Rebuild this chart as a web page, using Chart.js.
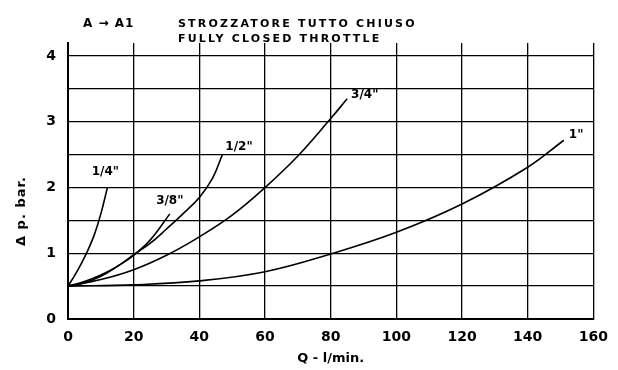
<!DOCTYPE html>
<html>
<head>
<meta charset="utf-8">
<script src="https://cdn.jsdelivr.net/npm/chart.js@4.4.0/dist/chart.umd.min.js"></script>
<style>
  body { margin: 0; background: #fff; }
  #wrap { width: 618px; height: 370px; }
</style>
</head>
<body>
<div id="wrap"><canvas id="myChart"></canvas></div>
<script>
// curve names
const sizes = ['1/4"', '3/8"', '1/2"', '3/4"', '1"'];

// flow Q (l/min) and pressure drop (bar)
const q14 = [0, 2, 4, 6, 8, 10, 12];
const dp14 = [0.5, 0.66, 0.84, 1.04, 1.28, 1.6, 2.0];

const q38 = [0, 5, 10, 15, 20, 25, 31];
const dp38 = [0.5, 0.55, 0.65, 0.8, 0.97, 1.2, 1.6];

const q12 = [0, 5, 10, 15, 20, 25, 30, 35, 40, 44, 47];
const dp12 = [0.5, 0.57, 0.67, 0.8, 0.98, 1.15, 1.37, 1.6, 1.85, 2.14, 2.5];

const q34 = [0, 10, 20, 30, 40, 50, 60, 70, 80, 85];
const dp34 = [0.5, 0.6, 0.75, 0.97, 1.25, 1.58, 2.0, 2.48, 3.05, 3.35];

const q1 = [0, 20, 40, 60, 80, 100, 120, 140, 151];
const dp1 = [0.5, 0.52, 0.58, 0.72, 0.99, 1.32, 1.75, 2.31, 2.72];

const xTicks = [0, 20, 40, 60, 80, 100, 120, 140, 160];
const yTicks = [0, 1, 2, 3, 4];

const allQ = [q14, q38, q12, q34, q1];
const allDp = [dp14, dp38, dp12, dp34, dp1];

const datasets = sizes.map((name, i) => ({
  label: name,
  data: allQ[i].map((q, j) => ({ x: q, y: allDp[i][j] })),
  borderColor: "#000",
  borderWidth: 1.6,
  pointRadius: 0,
  tension: 0.4,
  fill: false,
}));

// name of each curve, drawn next to its last point
const curveLabels = {
  id: "curveLabels",
  afterDatasetsDraw(chart, args, opts) {
    const ctx = chart.ctx;
    ctx.save();
    ctx.font = "bold 12px 'DejaVu Sans'";
    ctx.fillStyle = "#000";
    ctx.textBaseline = "middle";
    chart.data.datasets.forEach((ds, i) => {
      const last = ds.data[ds.data.length - 1];
      const px = chart.scales.x.getPixelForValue(last.x);
      const py = chart.scales.y.getPixelForValue(last.y);
      const off = opts.offsets[i];
      ctx.textAlign = off[2];
      ctx.fillText(ds.label, px + off[0], py + off[1]);
    });
    ctx.restore();
  },
};

// header text and y axis title
const headerText = {
  id: "headerText",
  afterDraw(chart) {
    const ctx = chart.ctx;
    ctx.save();
    ctx.fillStyle = "#000";
    ctx.textBaseline = "middle";
    ctx.textAlign = "left";
    ctx.font = "bold 12px 'DejaVu Sans'";
    ctx.letterSpacing = "1px";
    ctx.fillText("A \u2192 A1", 83, 24);
    ctx.font = "bold 11px 'DejaVu Sans'";
    ctx.letterSpacing = "2.2px";
    ctx.fillText("STROZZATORE TUTTO CHIUSO", 178, 24);
    ctx.fillText("FULLY CLOSED THROTTLE", 178, 39);
    ctx.translate(22, 211);
    ctx.rotate(-Math.PI / 2);
    ctx.textAlign = "center";
    ctx.font = "bold 13px 'DejaVu Sans'";
    ctx.letterSpacing = "1px";
    ctx.fillText("\u0394 p. bar.", 0, 0);
    ctx.restore();
  },
};

new Chart(document.getElementById("myChart"), {
  type: "line",
  data: { datasets: datasets },
  options: {
    responsive: true,
    maintainAspectRatio: false,
    animation: false,
    layout: { padding: { top: 43, right: 21, left: 0, bottom: 0 } },
    plugins: {
      legend: { display: false },
      tooltip: { enabled: false },
      curveLabels: {
        offsets: [
          [-2, -16, "center"],
          [0, -13, "center"],
          [3, -8, "left"],
          [4, -4, "left"],
          [5, -5, "left"],
        ],
      },
    },
    scales: {
      x: {
        type: "linear",
        min: 0,
        max: 160,
        afterFit: (s) => { s.height = 51; },
        afterBuildTicks: (s) => { s.ticks = xTicks.map((v) => ({ value: v })); },
        grid: { color: "#000", lineWidth: 1.3, drawTicks: false },
        border: { color: "#000", width: 2 },
        ticks: {
          color: "#000",
          padding: 10,
          font: { family: "'DejaVu Sans'", size: 14, weight: "bold" },
        },
        title: {
          display: true,
          text: "Q - l/min.",
          color: "#000",
          padding: { top: 0, bottom: 4 },
          font: { family: "'DejaVu Sans'", size: 13, weight: "bold" },
        },
      },
      y: {
        type: "linear",
        min: 0,
        max: 4.2,
        afterFit: (s) => { s.width = 68; },
        afterBuildTicks: (s) => {
          const t = [];
          for (let v = 0; v <= 4; v += 0.5) t.push({ value: v });
          s.ticks = t;
        },
        grid: { color: "#000", lineWidth: 1.3, drawTicks: false },
        border: { color: "#000", width: 2 },
        ticks: {
          color: "#000",
          padding: 12,
          font: { family: "'DejaVu Sans'", size: 14, weight: "bold" },
          callback: (v) => (yTicks.includes(v) ? v : ""),
        },
      },
    },
  },
  plugins: [curveLabels, headerText],
});
</script>
</body>
</html>
